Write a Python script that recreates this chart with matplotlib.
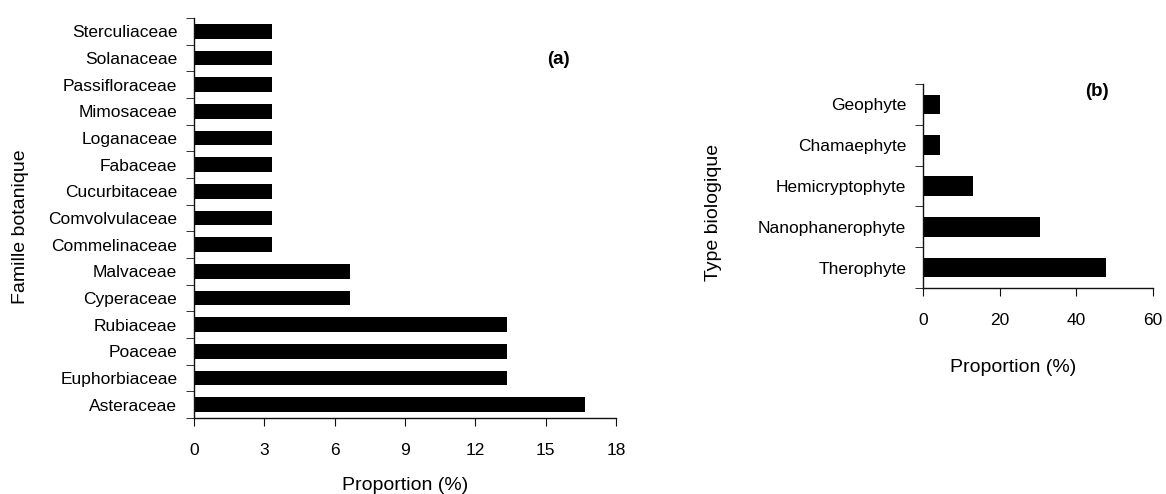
import matplotlib
matplotlib.use("Agg")
import matplotlib.pyplot as plt
import numpy as np

plt.rcParams['font.family'] = ['Liberation Sans', 'DejaVu Sans']

# (a) botanical families, bottom to top
familles = ["Asteraceae", "Euphorbiaceae", "Poaceae", "Rubiaceae", "Cyperaceae",
            "Malvaceae", "Commelinaceae", "Comvolvulaceae", "Cucurbitaceae",
            "Fabaceae", "Loganaceae", "Mimosaceae", "Passifloraceae",
            "Solanaceae", "Sterculiaceae"]
prop_familles = [16.67, 13.33, 13.33, 13.33, 6.67, 6.67, 3.33, 3.33, 3.33,
                 3.33, 3.33, 3.33, 3.33, 3.33, 3.33]

# (b) biological types, bottom to top
types = ["Therophyte", "Nanophanerophyte", "Hemicryptophyte", "Chamaephyte", "Geophyte"]
prop_types = [47.83, 30.43, 13.04, 4.35, 4.35]

FS = 12.5   # tick labels
LFS = 14    # axis labels
W, H = 1166, 494
fig = plt.figure(figsize=(W / 100, H / 100), dpi=100)

def px_axes(x0, y0, x1, y1):
    return fig.add_axes([x0 / W, 1 - y1 / H, (x1 - x0) / W, (y1 - y0) / H])

def style(ax, n, xpad):
    for s in ["top", "right"]:
        ax.spines[s].set_visible(False)
    for s in ["left", "bottom"]:
        ax.spines[s].set_color("#111111")
        ax.spines[s].set_linewidth(1.0)
    ax.set_ylim(-0.5, n - 0.5)
    ax.set_yticks(np.arange(n))
    ax.set_yticks(np.arange(n + 1) - 0.5, minor=True)
    ax.tick_params(axis="y", which="major", length=0, pad=12, labelsize=FS)
    ax.tick_params(axis="y", which="minor", length=6, direction="out", color="#111111")
    ax.tick_params(axis="x", length=6, direction="out", color="#111111",
                   labelsize=FS, pad=xpad)

# panel (a)
ax1 = px_axes(194, 18, 616, 418)
y1 = np.arange(len(familles))
ax1.barh(y1, prop_familles, height=0.55, color="black")
ax1.set_xlim(0, 18)
ax1.set_xticks(np.arange(0, 19, 3))
style(ax1, len(familles), 12)
ax1.set_yticklabels(familles)
ax1.set_xlabel("Proportion (%)", fontsize=LFS, va="center")
ax1.xaxis.set_label_coords(0.5, -0.1675)
ax1.set_ylabel("Famille botanique", fontsize=LFS, va="center")
ax1.yaxis.set_label_coords(-0.412, 0.4775)
ax1.text(0.8626, 0.895, "(a)", transform=ax1.transAxes, fontsize=13.5,
         fontweight="bold", ha="center", va="center")

# panel (b)
ax2 = px_axes(923, 84, 1153, 288)
y2 = np.arange(len(types))
ax2.barh(y2, prop_types, height=0.48, color="black")
ax2.set_xlim(0, 60)
ax2.set_xticks(np.arange(0, 61, 20))
style(ax2, len(types), 12)
ax2.set_yticklabels(types)
ax2.set_xlabel("Proportion (%)", fontsize=LFS, va="center")
ax2.xaxis.set_label_coords(0.391, -0.392)
ax2.set_ylabel("Type biologique", fontsize=LFS, va="center")
ax2.yaxis.set_label_coords(-0.913, 0.368)
ax2.text(0.757, 0.961, "(b)", transform=ax2.transAxes, fontsize=13.5,
         fontweight="bold", ha="center", va="center")

fig.savefig("out.png", dpi=100, facecolor="white")
